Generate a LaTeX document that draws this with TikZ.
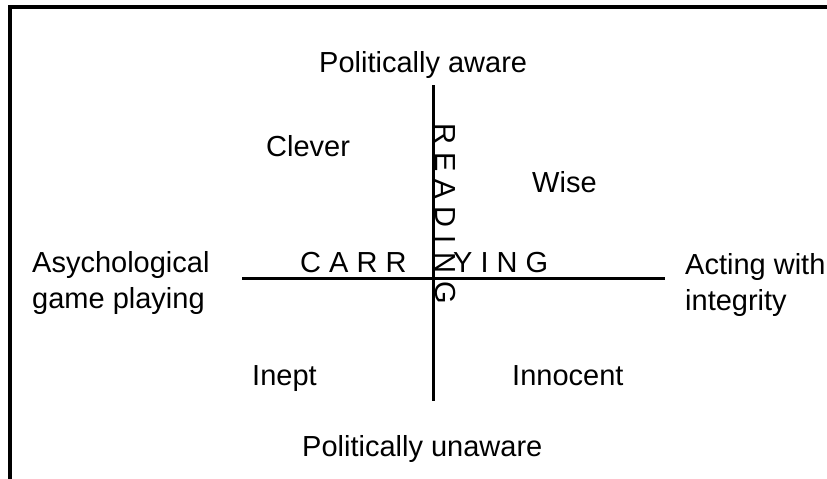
\documentclass[tikz,border=0pt]{standalone}
\usepackage{fontspec}
\setmainfont{Liberation Sans}
\begin{document}
\begin{tikzpicture}[x=1pt,y=-1pt,
  lbl/.style={anchor=base west,inner sep=0pt,font=\fontsize{29}{35}\selectfont,align=left},
  axis/.style={line width=3pt},
  frame/.style={line width=4pt,line join=miter}]
\useasboundingbox (0,0) rectangle (827,479);
% frame (only top and left edges visible)
\coordinate (fbl) at (10.3,479);
\coordinate (ftl) at (10.3,7);
\coordinate (ftr) at (827,7);
\draw[frame] (fbl) -- (ftl) -- (ftr);
% axes
\coordinate (vt) at (433.3,85);
\coordinate (vb) at (433.3,401);
\coordinate (hl) at (242,278.3);
\coordinate (hr) at (665,278.3);
\draw[axis] (vt) -- (vb);
\draw[axis] (hl) -- (hr);
% labels
\node[lbl] (top) at (319,72) {Politically aware};
\node[lbl] (bot) at (302,456) {Politically unaware};
\node[lbl] (clever) at (266,156) {Clever};
\node[lbl] (wise) at (532,192) {Wise};
\node[lbl] (inept) at (252,385) {Inept};
\node[lbl] (innocent) at (512,385) {Innocent};
\node[lbl] (left) at (32,308) {Asychological\\[1pt]game playing};
\node[lbl] (right) at (685,310) {Acting with\\[1pt]integrity};
\node[lbl] (carr) at (300,272) {C A R R};
\node[lbl] (ying) at (453,272) {Y I N G};
\node[lbl,rotate=-90] (reading) at (435,123) {R E A D I N G};
\end{tikzpicture}
\end{document}
